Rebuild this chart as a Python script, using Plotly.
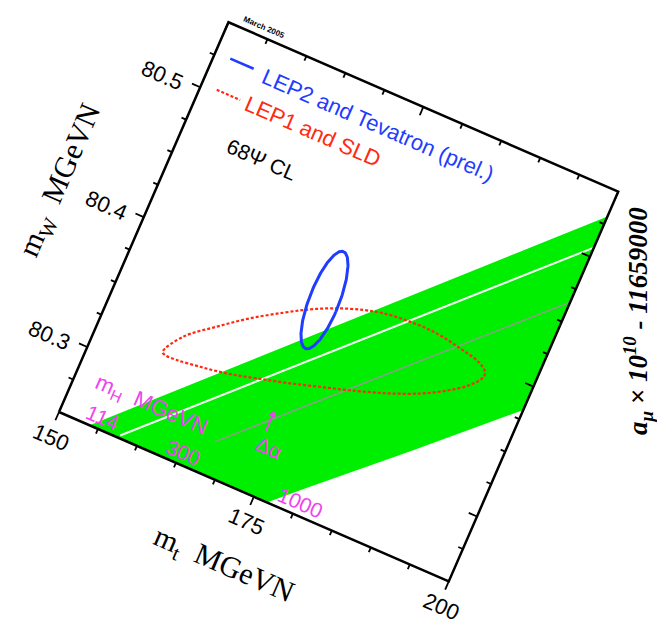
import math
import numpy as np
import plotly.graph_objects as go

# ------------------------------------------------------------------ data
MT_MIN, MT_MAX = 150.0, 200.0
MW_MIN, MW_MAX = 80.25, 80.55

mt_major = [150, 175, 200]
mt_major_labels = ["150", "175", "200"]
mt_minor = [155, 160, 165, 170, 180, 185, 190, 195]
mw_major = [80.3, 80.4, 80.5]
mw_major_labels = ["80.3", "80.4", "80.5"]
mw_minor = [80.275, 80.325, 80.35, 80.375, 80.425, 80.45, 80.475, 80.525]

# SM band (mH 114 .. 1000 GeV incl. delta-alpha)
band_mt = [150, 160, 170, 180, 190, 200]
band_mw_upper = [80.226, 80.287, 80.348, 80.409, 80.470, 80.531]
band_mw_lower = [80.098, 80.155, 80.212, 80.269, 80.325, 80.382]

# mH = 114 (white) and mH = 300 (grey) lines
line114_mt = [157.7, 200.0]
line114_mw = [80.252, 80.507]
line300_mt = [168.2, 200.0]
line300_mw = [80.2745, 80.465]

# LEP1 and SLD contour (68% CL)
lep1_mt = [158.36, 159.88, 163.01, 166.21, 169.55, 172.27, 175.10, 178.05, 180.36,
           183.63, 187.06, 190.28, 192.88, 194.07, 194.16, 193.08, 191.16, 188.43,
           184.84, 181.13, 177.36, 173.58, 169.75, 166.28, 163.09, 160.26, 158.76]
lep1_mw = [80.3182, 80.3338, 80.3496, 80.3644, 80.3774, 80.3871, 80.3953, 80.4017, 80.4052,
           80.4073, 80.4072, 80.4041, 80.4006, 80.3960, 80.3919, 80.3832, 80.3743, 80.3646,
           80.3552, 80.3474, 80.3404, 80.3336, 80.3274, 80.3222, 80.3190, 80.3168, 80.3167]

# LEP2 and Tevatron (prel.) 68% CL ellipse: centre, half-widths, correlation
lep2_center = (173.39, 80.3972)
lep2_halfwidth = (1.78, 0.0367)
lep2_rho = -0.12

# text anchors in data coordinates
legend_blue_mt, legend_blue_mw = [151.9, 154.9], [80.527, 80.527]
legend_red_mt, legend_red_mw = [151.9, 154.9], [80.503, 80.503]
text_blue = ("LEP2 and Tevatron (prel.)", 171.0, 80.5257)
text_red = ("LEP1 and SLD", 164.2, 80.503)
text_cl = ("68Ψ CL", 160.0, 80.4707)
text_date = ("March 2005", 154.1, 80.5566)
mh_labels = [("m<sub>H</sub>  MGeVN", 159.7, 80.2796),
             ("114", 154.95, 80.2587),
             ("300", 165.3, 80.2588),
             ("1000", 180.25, 80.2592),
             ("Δα", 174.3, 80.286)]
arrow_mt = [173.2, 173.2]
arrow_mw = [80.296, 80.3087]

# ------------------------------------------------------------------ geometry / style
W, H = 657, 627
OX, OY = 59.0, 412.0      # pixel position of (150, 80.25)
SIDE = 425.0              # frame side in px
ANG = 23.5                # frame rotation (clockwise, degrees)
C, S = math.cos(math.radians(ANG)), math.sin(math.radians(ANG))
GREEN = "#00ee00"
MAGENTA = "#ee44ee"
BLUE = "#1f3cff"
RED = "#ff2a10"
SANS = "Liberation Sans, Arial, sans-serif"
SERIF = "Liberation Serif, Times New Roman, serif"


def to_px(mt, mw):
    fa = (np.asarray(mt, float) - MT_MIN) / (MT_MAX - MT_MIN)
    fb = (np.asarray(mw, float) - MW_MIN) / (MW_MAX - MW_MIN)
    return OX + SIDE * (fa * C + fb * S), OY + SIDE * (fa * S - fb * C)


def clip_poly(pts):
    def clip(points, inside, inter):
        out = []
        for i in range(len(points)):
            cur, prev = points[i], points[i - 1]
            if inside(cur):
                if not inside(prev):
                    out.append(inter(prev, cur))
                out.append(cur)
            elif inside(prev):
                out.append(inter(prev, cur))
        return out

    def ix(v, k):
        def f(p, q):
            t = (v - p[k]) / (q[k] - p[k])
            return (p[0] + t * (q[0] - p[0]), p[1] + t * (q[1] - p[1]))
        return f

    pts = clip(pts, lambda p: p[0] >= MT_MIN, ix(MT_MIN, 0))
    pts = clip(pts, lambda p: p[0] <= MT_MAX, ix(MT_MAX, 0))
    pts = clip(pts, lambda p: p[1] >= MW_MIN, ix(MW_MIN, 1))
    pts = clip(pts, lambda p: p[1] <= MW_MAX, ix(MW_MAX, 1))
    return pts


fig = go.Figure()

# band
poly = list(zip(band_mt, band_mw_upper)) + list(zip(band_mt[::-1], band_mw_lower[::-1]))
poly = clip_poly(poly)
bx, by = to_px([p[0] for p in poly], [p[1] for p in poly])
fig.add_trace(go.Scatter(x=np.append(bx, bx[0]), y=np.append(by, by[0]), mode="lines",
                         fill="toself", fillcolor=GREEN, line=dict(width=0), hoverinfo="skip"))

x, y = to_px(line114_mt, line114_mw)
fig.add_trace(go.Scatter(x=x, y=y, mode="lines", line=dict(color="#f4fff4", width=2), hoverinfo="skip"))
x, y = to_px(line300_mt, line300_mw)
fig.add_trace(go.Scatter(x=x, y=y, mode="lines", line=dict(color="#8a9f8a", width=1.5), hoverinfo="skip"))

# LEP1 contour
x, y = to_px(lep1_mt + lep1_mt[:1], lep1_mw + lep1_mw[:1])
fig.add_trace(go.Scatter(x=x, y=y, mode="lines",
                         line=dict(color=RED, width=2.2, dash="3px,2px", shape="spline"),
                         hoverinfo="skip"))

# LEP2 ellipse
t = np.linspace(0, 2 * np.pi, 181)
alpha = math.acos(lep2_rho)
emt = lep2_center[0] + lep2_halfwidth[0] * np.cos(t)
emw = lep2_center[1] + lep2_halfwidth[1] * np.cos(t - alpha)
x, y = to_px(emt, emw)
fig.add_trace(go.Scatter(x=x, y=y, mode="lines", line=dict(color=BLUE, width=3), hoverinfo="skip"))

# frame
fx, fy = to_px([MT_MIN, MT_MAX, MT_MAX, MT_MIN, MT_MIN], [MW_MIN, MW_MIN, MW_MAX, MW_MAX, MW_MIN])
fig.add_trace(go.Scatter(x=fx, y=fy, mode="lines", line=dict(color="black", width=2.5), hoverinfo="skip"))

# ticks
tx, ty = [], []
def add_tick(px, py, dx, dy, ln):
    tx.extend([px, px + dx * ln, None]); ty.extend([py, py + dy * ln, None])

for vals, ln in ((mt_major, 9), (mt_minor, 5)):
    for v in vals:
        for mw in (MW_MIN, MW_MAX):
            px, py = to_px(v, mw)
            add_tick(float(px), float(py), -S, C, ln)
for vals, ln in ((mw_major, 9), (mw_minor, 5)):
    for v in vals:
        for mt in (MT_MIN, MT_MAX):
            px, py = to_px(mt, v)
            add_tick(float(px), float(py), -C, -S, ln)
fig.add_trace(go.Scatter(x=tx, y=ty, mode="lines", line=dict(color="black", width=1.8), hoverinfo="skip"))

# legend samples
x, y = to_px(legend_blue_mt, legend_blue_mw)
fig.add_trace(go.Scatter(x=x, y=y, mode="lines", line=dict(color=BLUE, width=2.5), hoverinfo="skip"))
x, y = to_px(legend_red_mt, legend_red_mw)
fig.add_trace(go.Scatter(x=x, y=y, mode="lines", line=dict(color=RED, width=2.2, dash="3px,2px"),
                         hoverinfo="skip"))

# delta-alpha arrow
x, y = to_px(arrow_mt, arrow_mw)
fig.add_trace(go.Scatter(x=x, y=y, mode="lines", line=dict(color=MAGENTA, width=2), hoverinfo="skip"))
fig.add_trace(go.Scatter(x=[x[1]], y=[y[1]], mode="markers",
                         marker=dict(symbol="triangle-up", size=7, color=MAGENTA, angle=ANG), hoverinfo="skip"))

annotations = []
def label(text, px, py, size, color="black", family=SANS, angle=ANG):
    annotations.append(dict(text=text, x=float(px), y=float(py), xref="x", yref="y", showarrow=False,
                            textangle=angle, xanchor="center", yanchor="middle",
                            font=dict(size=size, color=color, family=family)))

for v, lab in zip(mt_major, mt_major_labels):
    px, py = to_px(v, MW_MIN)
    label(lab, px - S * 26 + C * 3, py + C * 26 + S * 3, 22)
for v, lab in zip(mw_major, mw_major_labels):
    px, py = to_px(MT_MIN, v)
    label(lab, px - C * 39 - S * 4, py - S * 39 + C * 4, 22)

# axis titles
px, py = to_px(175, MW_MIN)
label("m<sub>t</sub>  MGeVN", px - S * 75, py + C * 75, 30, family=SERIF)
px, py = to_px(MT_MIN, 80.40)
label("m<sub>W</sub>  MGeVN", px - C * 90, py - S * 90, 30, family=SERIF, angle=ANG - 90)

# legend texts
for (txt, mt, mw), col, sz in ((text_blue, BLUE, 22), (text_red, RED, 22), (text_cl, "black", 21)):
    px, py = to_px(mt, mw)
    label(txt, px, py, sz, color=col)
px, py = to_px(text_date[1], text_date[2])
label("<b>" + text_date[0] + "</b>", px, py, 8)

for txt, mt, mw in mh_labels:
    px, py = to_px(mt, mw)
    label(txt, px, py, 22 if "MGeVN" in txt else 21, color=MAGENTA)

# right-hand label
annotations.append(dict(text="<b><i>a<sub>μ</sub> × 10<sup>10</sup> - 11659000</i></b>", x=638, y=321,
                        xref="x", yref="y", showarrow=False, textangle=-90,
                        xanchor="center", yanchor="middle",
                        font=dict(size=27, color="black", family=SERIF)))

fig.update_layout(
    width=W, height=H, margin=dict(l=0, r=0, t=0, b=0),
    paper_bgcolor="white", plot_bgcolor="white", showlegend=False,
    xaxis=dict(range=[0, W], visible=False, fixedrange=True),
    yaxis=dict(range=[H, 0], visible=False, fixedrange=True),
    annotations=annotations,
)
fig.write_html("out.html", config={"displayModeBar": False},
               post_script="document.body.style.margin='0px';document.body.style.overflow='hidden';")
